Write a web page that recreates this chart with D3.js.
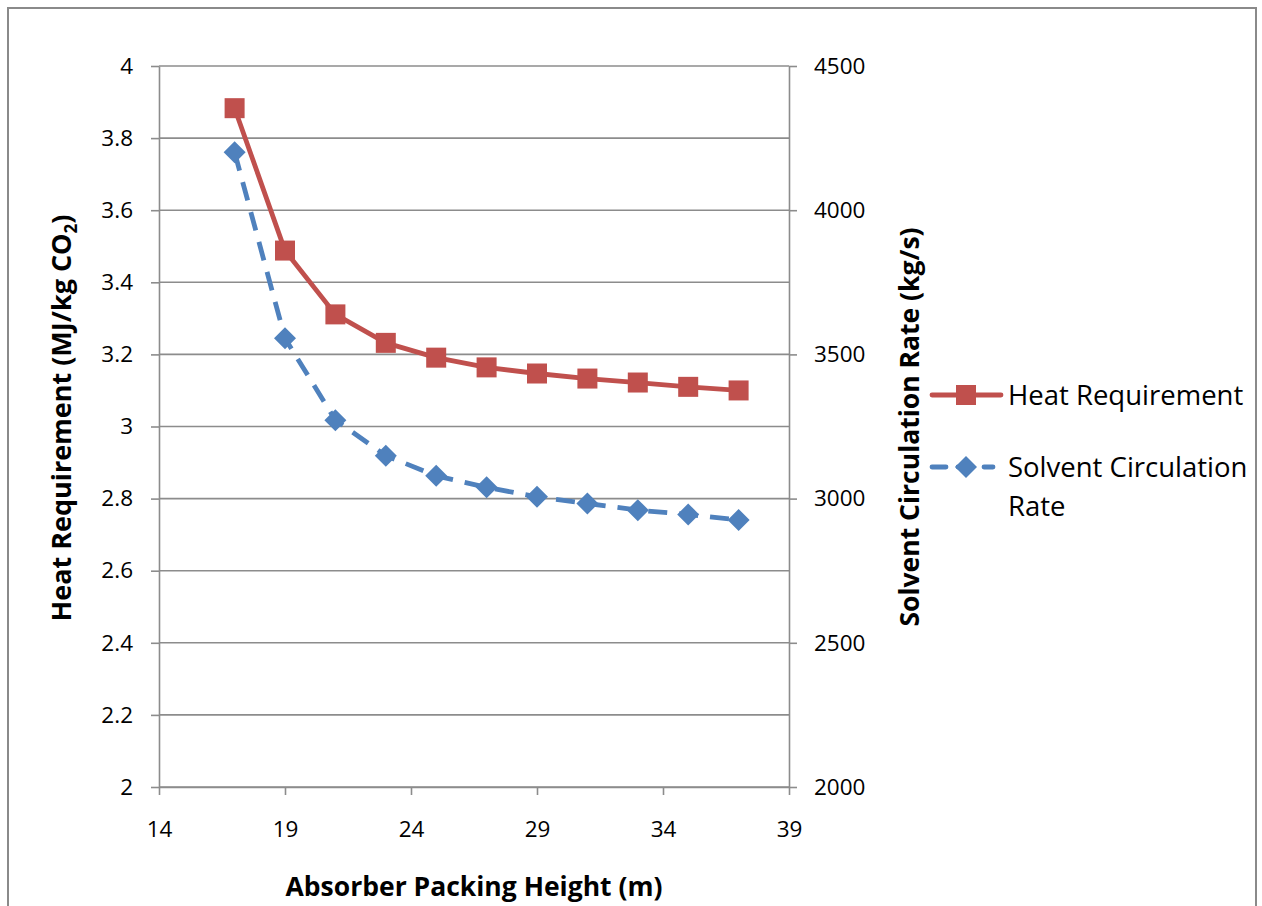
<!DOCTYPE html>
<html><head><meta charset="utf-8">
<script src="https://cdn.jsdelivr.net/npm/d3@7"></script>
<style>body{margin:0;background:#fff}svg{display:block}text{font-family:"Open Sans",Lato,sans-serif;fill:#000}</style>
</head><body><svg id="c" width="1262" height="906"></svg>
<script>
const heights = [17,19,21,23,25,27,29,31,33,35,37];
const heatRequirement = [3.883,3.488,3.311,3.232,3.191,3.164,3.147,3.133,3.122,3.110,3.100];
const solventRate = [4201,3556,3272,3149,3079,3039,3006,2983,2960,2945,2926];
const xTicks = [14,19,24,29,34,39];
const leftTicks = [2,2.2,2.4,2.6,2.8,3,3.2,3.4,3.6,3.8,4];
const rightTicks = [2000,2500,3000,3500,4000,4500];
const seriesNames = ["Heat Requirement","Solvent Circulation Rate"];

const svg = d3.select("#c");
const L=159, R=789, T=66, B=787;
const x = d3.scaleLinear().domain([14,39]).range([L,R]);
const yL = d3.scaleLinear().domain([2,4]).range([B,T]);
const yR = d3.scaleLinear().domain([2000,4500]).range([B,T]);
const gridC="#8c8c8c";

svg.append("rect").attr("x",8).attr("y",8).attr("width",1248).attr("height",920)
  .attr("fill","none").attr("stroke","#8a8a8a").attr("stroke-width",2);

svg.append("g").selectAll("line").data(leftTicks).join("line")
  .attr("x1",L).attr("x2",R).attr("y1",d=>yL(d)).attr("y2",d=>yL(d))
  .attr("stroke",gridC).attr("stroke-width",1.6);

function styleAxis(g){
  g.select(".domain").attr("stroke",gridC).attr("stroke-width",1.6);
  g.selectAll(".tick line").attr("stroke",gridC).attr("stroke-width",1.6);
  g.selectAll(".tick text").style("font-size","22.5px").attr("fill","#000");
}
svg.append("g").attr("transform",`translate(0,${B})`)
  .call(d3.axisBottom(x).tickValues(xTicks).tickSize(8).tickSizeOuter(0).tickPadding(26).tickFormat(d3.format("d")))
  .call(styleAxis);
svg.append("g").attr("transform",`translate(${L},0)`)
  .call(d3.axisLeft(yL).tickValues(leftTicks).tickSize(8).tickSizeOuter(0).tickPadding(18).tickFormat(d=>d3.format("")(+d.toFixed(1))))
  .call(styleAxis);
svg.append("g").attr("transform",`translate(${R},0)`)
  .call(d3.axisRight(yR).tickValues(rightTicks).tickSize(8).tickSizeOuter(0).tickPadding(17).tickFormat(d3.format("d")))
  .call(styleAxis);

svg.append("text").attr("x",474).attr("y",896).attr("text-anchor","middle")
  .style("font-size","26.5px").style("font-weight","bold").text("Absorber Packing Height (m)");
const lt = svg.append("text").attr("transform","translate(71,418) rotate(-90)").attr("text-anchor","middle")
  .style("font-size","27px").style("font-weight","bold");
lt.append("tspan").text("Heat Requirement (MJ/kg CO");
lt.append("tspan").text("2").style("font-size","17px").attr("dy",6);
lt.append("tspan").text(")").attr("dy",-6);
svg.append("text").attr("transform","translate(919,427) rotate(-90)").attr("text-anchor","middle")
  .style("font-size","26.5px").style("font-weight","bold").text("Solvent Circulation Rate (kg/s)");

const red="#C0504D", blue="#4F81BD";
const pts = heights.map((h,i)=>({h,heat:heatRequirement[i],sol:solventRate[i]}));

svg.append("path").datum(pts).attr("fill","none").attr("stroke",blue).attr("stroke-width",4.8)
  .attr("stroke-dasharray","19,12").attr("stroke-linejoin","round")
  .attr("d",d3.line().x(d=>x(d.h)).y(d=>yR(d.sol)));
svg.append("g").selectAll("path").data(pts).join("path")
  .attr("transform",d=>`translate(${x(d.h)},${yR(d.sol)})`)
  .attr("d","M0,-11L11,0L0,11L-11,0Z").attr("fill",blue);

svg.append("path").datum(pts).attr("fill","none").attr("stroke",red).attr("stroke-width",4.8)
  .attr("stroke-linejoin","round")
  .attr("d",d3.line().x(d=>x(d.h)).y(d=>yL(d.heat)));
svg.append("g").selectAll("rect").data(pts).join("rect")
  .attr("x",d=>x(d.h)-10).attr("y",d=>yL(d.heat)-10).attr("width",20).attr("height",20).attr("fill",red);

const lg = svg.append("g");
lg.append("line").attr("x1",932).attr("x2",1001).attr("y1",395).attr("y2",395).attr("stroke",red).attr("stroke-width",4.8).attr("stroke-linecap","round");
lg.append("rect").attr("x",956).attr("y",385).attr("width",20).attr("height",20).attr("fill",red);
lg.append("text").attr("x",1008).attr("y",405).style("font-size","27.5px").text(seriesNames[0]);
lg.append("line").attr("x1",932).attr("x2",993).attr("y1",467).attr("y2",467).attr("stroke",blue).attr("stroke-width",4.8)
  .attr("stroke-dasharray","14,12").attr("stroke-linecap","round");
lg.append("path").attr("transform","translate(966,467)").attr("d","M0,-11L11,0L0,11L-11,0Z").attr("fill",blue);
const st = lg.append("text").attr("x",1008).attr("y",477).style("font-size","27.5px");
st.append("tspan").attr("x",1008).text("Solvent Circulation");
st.append("tspan").attr("x",1008).attr("dy",39).text("Rate");
</script></body></html>
